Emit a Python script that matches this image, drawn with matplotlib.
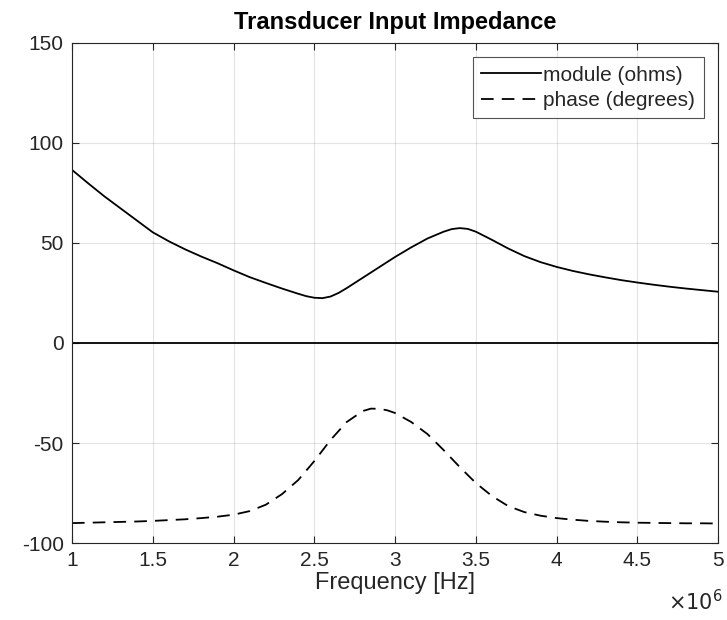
import numpy as np
import matplotlib.pyplot as plt
from matplotlib.ticker import FuncFormatter

plt.rcParams['font.family'] = ['Liberation Sans', 'DejaVu Sans']
plt.rcParams['axes.unicode_minus'] = False

# module of the impedance (ohms), frequency in MHz
freq_mod = [1.0, 1.1, 1.2, 1.3, 1.4, 1.5, 1.6, 1.7, 1.8, 1.9, 2.0, 2.1, 2.2,
            2.3, 2.4, 2.45, 2.5, 2.55, 2.6, 2.65, 2.7, 2.8, 2.9, 3.0, 3.1,
            3.2, 3.3, 3.35, 3.4, 3.45, 3.5, 3.6, 3.7, 3.8, 3.9, 4.0, 4.1,
            4.2, 4.3, 4.4, 4.5, 4.6, 4.7, 4.8, 4.9, 5.0]
module = [86.5, 79.8, 73.3, 67.3, 61.3, 55.3, 50.8, 46.8, 43.2, 39.9, 36.3,
          32.9, 30.0, 27.2, 24.6, 23.4, 22.6, 22.4, 23.2, 25.0, 27.4, 32.6,
          37.8, 43.0, 47.8, 52.2, 55.6, 56.9, 57.4, 57.0, 55.6, 51.5, 47.2,
          43.4, 40.4, 38.0, 36.0, 34.3, 32.8, 31.4, 30.2, 29.1, 28.1, 27.2,
          26.4, 25.6]

# phase of the impedance (degrees)
freq_ph = [1.0, 1.1, 1.2, 1.3, 1.4, 1.5, 1.6, 1.7, 1.8, 1.9, 2.0, 2.1, 2.2,
           2.3, 2.4, 2.5, 2.6, 2.7, 2.8, 2.85, 2.9, 2.95, 3.0, 3.1, 3.2, 3.3,
           3.4, 3.5, 3.6, 3.7, 3.8, 3.9, 4.0, 4.1, 4.2, 4.3, 4.4, 4.5, 4.6,
           4.7, 4.8, 4.9, 5.0]
phase = [-90.0, -89.8, -89.6, -89.4, -89.2, -88.9, -88.5, -88.1, -87.5, -86.8,
         -85.8, -84.0, -80.8, -75.5, -68.5, -59.0, -48.5, -39.5, -34.0, -32.8,
         -32.9, -33.6, -35.0, -39.5, -45.5, -53.5, -62.0, -70.0, -76.5, -81.5,
         -84.5, -86.3, -87.5, -88.3, -88.9, -89.3, -89.6, -89.8, -89.9, -90.0,
         -90.1, -90.1, -90.2]

zero_level = 0

txt = (0.15, 0.15, 0.15)

fig = plt.figure(figsize=(7.27, 6.2), dpi=100)
ax = fig.add_axes([0.099, 0.124, 0.889, 0.807])

f_mod = np.array(freq_mod) * 1e6
f_ph = np.array(freq_ph) * 1e6

ax.plot(f_mod, module, color='k', lw=1.3, label='module (ohms)')
ax.plot(f_ph, phase, color='k', lw=1.3, dashes=(7, 4.5), label='phase (degrees)')
ax.axhline(zero_level, color='k', lw=1.3)

ax.set_xlim(1e6, 5e6)
ax.set_ylim(-100, 150)
ax.set_xticks(np.arange(1e6, 5.01e6, 0.5e6))
ax.set_yticks(np.arange(-100, 151, 50))
ax.xaxis.set_major_formatter(FuncFormatter(lambda v, p: f'{v / 1e6:g}'))

ax.grid(True, color=(0.15, 0.15, 0.15), alpha=0.12, lw=0.8)
ax.tick_params(direction='in', top=True, right=True, colors=txt,
               labelsize=15, length=5, width=0.8, pad=6)
for s in ax.spines.values():
    s.set_color(txt)
    s.set_linewidth(0.8)

ax.set_title('Transducer Input Impedance', fontsize=17, fontweight='bold',
             color='k', pad=10)
ax.set_xlabel('Frequency [Hz]', fontsize=17, color=txt, labelpad=1)
ax.text(1.006, -0.116, r'$\times10^{6}$', transform=ax.transAxes, ha='right',
        va='center', fontsize=15, color=txt)

leg = ax.legend(loc='upper right', fontsize=15, frameon=True, fancybox=False,
                edgecolor=txt, handlelength=2.9, handletextpad=0.1,
                borderpad=0.4, labelspacing=0.3, borderaxespad=0.7)
leg.get_frame().set_linewidth(0.8)
for t in leg.get_texts():
    t.set_color(txt)

fig.savefig('out.png', dpi=100)
